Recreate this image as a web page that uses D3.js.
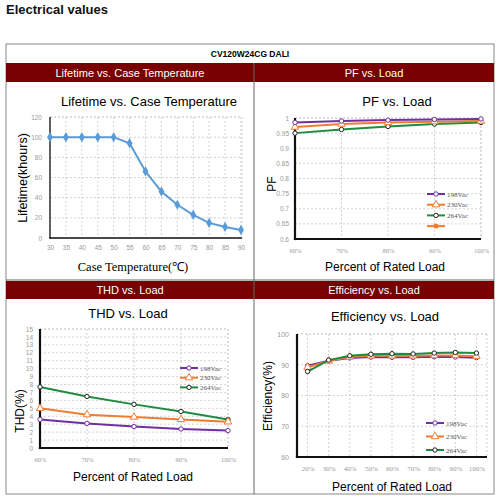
<!DOCTYPE html>
<html>
<head>
<meta charset="utf-8">
<script src="https://cdn.jsdelivr.net/npm/d3@7"></script>
<style>
  body { margin: 0; background: #fff; }
  svg { display: block; font-family: "Liberation Sans", Arial, sans-serif; }
</style>
</head>
<body>
<div id="chart"></div>
<script>
// Lifetime vs case temperature
const tempValues = [30, 35, 40, 45, 50, 55, 60, 65, 70, 75, 80, 85, 90];
const lifetimeValues = [100, 100, 100, 100, 100, 94, 66, 46, 33, 23, 15, 11, 8];

// Load categories
const pfLoads = ['60%', '70%', '80%', '90%', '100%'];
const effLoads = ['20%', '30%', '40%', '50%', '60%', '70%', '80%', '90%', '100%'];
const seriesNames = ['198Vac', '230Vac', '264Vac'];

const pf198 = [0.985, 0.99, 0.993, 0.995, 0.997];
const pf230 = [0.97, 0.98, 0.985, 0.988, 0.99];
const pf264 = [0.95, 0.962, 0.972, 0.98, 0.985];

const thd198 = [3.6, 3.1, 2.7, 2.4, 2.2];
const thd230 = [5.0, 4.2, 3.9, 3.6, 3.3];
const thd264 = [7.7, 6.5, 5.5, 4.6, 3.6];

const eff198 = [89.7, 91.3, 92.2, 92.5, 92.4, 92.4, 92.6, 92.5, 92.3];
const eff230 = [89.2, 91.2, 92.5, 92.9, 92.9, 92.9, 93.0, 93.0, 92.8];
const eff264 = [87.8, 91.5, 92.9, 93.4, 93.6, 93.5, 93.8, 94.0, 93.8];

const seriesStyle = [
    {color: '#7030A0', marker: 'circle', stroke: '#7030A0'},
    {color: '#ED7D31', marker: 'triangle', stroke: '#ED7D31'},
    {color: '#1E8B3E', marker: 'circle', stroke: '#222'}
];

const svg = d3.select('#chart').append('svg')
    .attr('width', 500)
    .attr('height', 500);

// Page title
svg.append('text')
    .attr('x', 6).attr('y', 14)
    .style('font-size', '13px').style('font-weight', 'bold')
    .attr('fill', '#111')
    .text('Electrical values');

// Table frame
const tbl = {left: 6, right: 494, top: 44, bottom: 494, mid: 254};
svg.append('rect')
    .attr('x', tbl.left).attr('y', tbl.top)
    .attr('width', tbl.right - tbl.left).attr('height', tbl.bottom - tbl.top)
    .attr('fill', 'none').attr('stroke', '#888').attr('stroke-width', 1);

svg.append('text')
    .attr('x', (tbl.left + tbl.right) / 2).attr('y', 57)
    .attr('text-anchor', 'middle')
    .style('font-size', '8.5px').style('font-weight', 'bold')
    .text('CV120W24CG DALI');

// Red header bands
const bands = [
    {y: 63, h: 19, x0: tbl.left, x1: tbl.mid, label: 'Lifetime vs. Case Temperature'},
    {y: 63, h: 19, x0: tbl.mid, x1: tbl.right, label: 'PF vs. Load'},
    {y: 281, h: 18, x0: tbl.left, x1: tbl.mid, label: 'THD vs. Load'},
    {y: 281, h: 18, x0: tbl.mid, x1: tbl.right, label: 'Efficiency vs. Load'}
];
bands.forEach(b => {
    svg.append('rect')
        .attr('x', b.x0).attr('y', b.y)
        .attr('width', b.x1 - b.x0).attr('height', b.h)
        .attr('fill', '#780000');
    svg.append('text')
        .attr('x', (b.x0 + b.x1) / 2).attr('y', b.y + b.h / 2 + 4)
        .attr('text-anchor', 'middle')
        .attr('fill', '#fff')
        .style('font-size', '11px')
        .text(b.label);
});

// Cell borders
svg.append('line')
    .attr('x1', tbl.mid).attr('x2', tbl.mid)
    .attr('y1', 63).attr('y2', tbl.bottom)
    .attr('stroke', '#666');
svg.append('line')
    .attr('x1', tbl.left).attr('x2', tbl.right)
    .attr('y1', 280).attr('y2', 280)
    .attr('stroke', '#666');

// Generic helpers
function drawGrid(g, x, y, xVals, yTicks, box) {
    g.selectAll('.vgrid')
        .data(xVals)
        .enter().append('line')
        .attr('x1', d => x(d)).attr('x2', d => x(d))
        .attr('y1', box.top).attr('y2', box.bottom)
        .attr('stroke', '#c8c8c8').attr('stroke-dasharray', '2,2').attr('stroke-width', 0.8);
    g.selectAll('.hgrid')
        .data(yTicks)
        .enter().append('line')
        .attr('x1', box.left).attr('x2', box.right)
        .attr('y1', d => y(d)).attr('y2', d => y(d))
        .attr('stroke', '#c8c8c8').attr('stroke-dasharray', '2,2').attr('stroke-width', 0.8);
    // top and right frame
    g.append('line')
        .attr('x1', box.left).attr('x2', box.right)
        .attr('y1', box.top).attr('y2', box.top)
        .attr('stroke', '#c8c8c8').attr('stroke-dasharray', '2,2').attr('stroke-width', 0.8);
    g.append('line')
        .attr('x1', box.right).attr('x2', box.right)
        .attr('y1', box.top).attr('y2', box.bottom)
        .attr('stroke', '#c8c8c8').attr('stroke-dasharray', '2,2').attr('stroke-width', 0.8);
}

function drawAxes(g, x, y, xVals, yTicks, box, opts) {
    const yAxis = g.append('g')
        .attr('transform', `translate(${box.left},0)`)
        .call(d3.axisLeft(y).tickValues(yTicks).tickSize(0).tickPadding(opts.yPad).tickFormat(opts.yFormat));
    yAxis.select('.domain').remove();
    yAxis.selectAll('text').attr('fill', '#999').style('font-size', opts.tickSize);

    const xAxis = g.append('g')
        .attr('transform', `translate(0,${box.bottom})`)
        .call(d3.axisBottom(x).tickValues(xVals).tickSize(0).tickPadding(opts.xPad));
    xAxis.select('.domain').remove();
    xAxis.selectAll('text').attr('fill', '#999').style('font-size', opts.tickSize)
        .style('font-family', opts.tickFont || null);

    g.append('line')
        .attr('x1', box.left).attr('x2', box.left)
        .attr('y1', box.top).attr('y2', box.bottom + opts.axisW / 2)
        .attr('stroke', '#111').attr('stroke-width', opts.axisW);
    g.append('line')
        .attr('x1', box.left - opts.axisW / 2).attr('x2', box.right)
        .attr('y1', box.bottom).attr('y2', box.bottom)
        .attr('stroke', '#111').attr('stroke-width', opts.axisW);
}

function drawMarker(g, px, py, style, r) {
    if (style.marker === 'circle') {
        g.append('circle')
            .attr('cx', px).attr('cy', py).attr('r', r)
            .attr('fill', '#fff').attr('stroke', style.stroke).attr('stroke-width', 1);
    } else if (style.marker === 'triangle') {
        g.append('path')
            .attr('d', d3.symbol().type(d3.symbolTriangle).size(r * r * 5)())
            .attr('transform', `translate(${px},${py})`)
            .attr('fill', '#fff').attr('stroke', style.stroke).attr('stroke-width', 1);
    } else if (style.marker === 'square') {
        g.append('rect')
            .attr('x', px - r).attr('y', py - r).attr('width', r * 2).attr('height', r * 2)
            .attr('fill', style.color);
    }
}

function drawSeries(g, x, y, cats, values, style, r) {
    const line = d3.line().x((d, i) => x(cats[i])).y(d => y(d));
    g.append('path')
        .datum(values)
        .attr('d', line)
        .attr('fill', 'none')
        .attr('stroke', style.color)
        .attr('stroke-width', 2);
    values.forEach((v, i) => drawMarker(g, x(cats[i]), y(v), style, r));
}

function drawLegend(g, entries, lx, ly, step) {
    entries.forEach((e, i) => {
        const yy = ly + i * step;
        g.append('line')
            .attr('x1', lx).attr('x2', lx + 18)
            .attr('y1', yy).attr('y2', yy)
            .attr('stroke', e.style.color).attr('stroke-width', 2);
        drawMarker(g, lx + 9, yy, e.style, 2.2);
        if (e.name) {
            g.append('text')
                .attr('x', lx + 20).attr('y', yy + 2.5)
                .attr('fill', '#555')
                .style('font-size', '7px')
                .style('font-family', '"Liberation Serif", serif')
                .text(e.name);
        }
    });
}

function titles(g, title, tx, ty, xLabel, xlx, xly, yLabel, ylx, yly, opts) {
    g.append('text')
        .attr('x', tx).attr('y', ty)
        .attr('text-anchor', 'middle')
        .style('font-size', '13px')
        .text(title);
    g.append('text')
        .attr('x', xlx).attr('y', xly)
        .attr('text-anchor', 'middle')
        .style('font-size', opts.xLabelSize || '12px')
        .style('font-family', opts.xLabelFont || null)
        .text(xLabel);
    g.append('text')
        .attr('transform', `translate(${ylx},${yly}) rotate(-90)`)
        .attr('text-anchor', 'middle')
        .style('font-size', opts.yLabelSize || '12px')
        .text(yLabel);
}

// 1. Lifetime vs. Case Temperature
(function () {
    const g = svg.append('g');
    const box = {left: 50, right: 242, top: 117, bottom: 238};
    const x = d3.scaleLinear().domain([30, 90]).range([box.left, 241]);
    const y = d3.scaleLinear().domain([0, 120]).range([box.bottom, box.top]);
    const yTicks = [0, 20, 40, 60, 80, 100, 120];
    drawGrid(g, x, y, tempValues, yTicks, box);
    drawAxes(g, x, y, tempValues, yTicks, box,
        {yPad: 8, xPad: 7, tickSize: '6.5px', axisW: 1.3, yFormat: d3.format('d')});
    const line = d3.line().x((d, i) => x(tempValues[i])).y(d => y(d));
    g.append('path')
        .datum(lifetimeValues)
        .attr('d', line)
        .attr('fill', 'none')
        .attr('stroke', '#5B9BD5')
        .attr('stroke-width', 2);
    g.selectAll('.pt')
        .data(lifetimeValues)
        .enter().append('path')
        .attr('d', d3.symbol().type(d3.symbolDiamond).size(30)())
        .attr('transform', (d, i) => `translate(${x(tempValues[i])},${y(d)})`)
        .attr('fill', '#5B9BD5');
    titles(g, 'Lifetime vs. Case Temperature', 149, 106,
        'Case Temperature(\u2103)', 133, 271,
        'Lifetime(khours)', 27, 178,
        {xLabelFont: '"Liberation Serif", serif', xLabelSize: '12.5px', yLabelSize: '12.5px'});
})();

// 2. PF vs. Load
(function () {
    const g = svg.append('g');
    const box = {left: 295, right: 481, top: 118, bottom: 239};
    const x = d3.scalePoint().domain(pfLoads).range([box.left, box.right]);
    const y = d3.scaleLinear().domain([0.6, 1]).range([box.bottom, box.top]);
    const yTicks = [0.6, 0.65, 0.7, 0.75, 0.8, 0.85, 0.9, 0.95, 1];
    drawGrid(g, x, y, pfLoads, yTicks, box);
    drawAxes(g, x, y, pfLoads, yTicks, box,
        {yPad: 6, xPad: 9, tickSize: '6.5px', axisW: 2.2, yFormat: d => String(+d.toFixed(2)),
         tickFont: '"Liberation Serif", serif'});
    [pf264, pf230, pf198].forEach((vals, k) => drawSeries(g, x, y, pfLoads, vals, seriesStyle[2 - k], 2.2));
    drawLegend(g, [
        {name: seriesNames[0], style: seriesStyle[0]},
        {name: seriesNames[1], style: seriesStyle[1]},
        {name: seriesNames[2], style: seriesStyle[2]},
        {name: '', style: {color: '#ED7D31', marker: 'square'}}
    ], 427, 194, 10.7);
    titles(g, 'PF vs. Load', 397, 106,
        'Percent of Rated Load', 385, 271,
        'PF', 276, 184, {yLabelSize: '12px'});
})();

// 3. THD vs. Load
(function () {
    const g = svg.append('g');
    const box = {left: 40, right: 228, top: 329, bottom: 448};
    const x = d3.scalePoint().domain(pfLoads).range([box.left, box.right]);
    const y = d3.scaleLinear().domain([0, 15]).range([box.bottom, box.top]);
    const yTicks = d3.range(0, 16);
    drawGrid(g, x, y, pfLoads, yTicks, box);
    drawAxes(g, x, y, pfLoads, yTicks, box,
        {yPad: 7, xPad: 9, tickSize: '6.5px', axisW: 2.2, yFormat: d3.format('d'),
         tickFont: '"Liberation Serif", serif'});
    [thd264, thd230, thd198].forEach((vals, k) => drawSeries(g, x, y, pfLoads, vals, seriesStyle[2 - k], 2.2));
    drawLegend(g, [
        {name: seriesNames[0], style: seriesStyle[0]},
        {name: seriesNames[1], style: seriesStyle[1]},
        {name: seriesNames[2], style: seriesStyle[2]}
    ], 180, 368, 9.7);
    titles(g, 'THD vs. Load', 128, 318,
        'Percent of Rated Load', 133, 481,
        'THD(%)', 24, 411, {yLabelSize: '12px'});
})();

// 4. Efficiency vs. Load
(function () {
    const g = svg.append('g');
    const box = {left: 297, right: 487, top: 334, bottom: 457};
    const x = d3.scalePoint().domain(effLoads).range([box.left, box.right]).padding(0.5);
    const y = d3.scaleLinear().domain([60, 100]).range([box.bottom, box.top]);
    const yTicks = [60, 70, 80, 90, 100];
    drawGrid(g, x, y, effLoads, yTicks, box);
    drawAxes(g, x, y, effLoads, yTicks, box,
        {yPad: 8, xPad: 9, tickSize: '7px', axisW: 2.2, yFormat: d3.format('d'),
         tickFont: '"Liberation Serif", serif'});
    [eff198, eff230, eff264].forEach((vals, k) => drawSeries(g, x, y, effLoads, vals, seriesStyle[k], 2.2));
    drawLegend(g, [
        {name: seriesNames[0], style: seriesStyle[0]},
        {name: seriesNames[1], style: seriesStyle[1]},
        {name: seriesNames[2], style: seriesStyle[2]}
    ], 426, 423, 13.5);
    titles(g, 'Efficiency vs. Load', 385, 321,
        'Percent of Rated Load', 392, 491,
        'Efficiency(%)', 272, 396, {yLabelSize: '12px'});
})();
</script>
</body>
</html>
